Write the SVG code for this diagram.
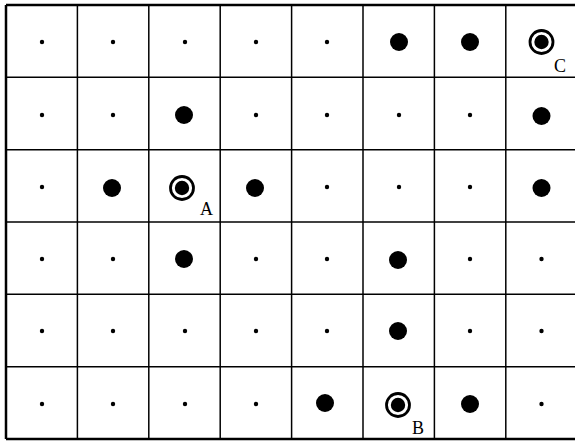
<svg xmlns="http://www.w3.org/2000/svg" width="575" height="441" viewBox="0 0 575 441">
<style>
.g{stroke:#000;stroke-width:1.5;fill:none}
.b{stroke:#000;stroke-width:2.5;fill:none}
.s{fill:#000}
.ring{fill:none;stroke:#000;stroke-width:2.8}
.lbl{font-family:"Liberation Serif",serif;font-size:18px;fill:#000}
</style>
<rect width="575" height="441" fill="#fff"/>
<g id="grid">
<line class="b" x1="6" y1="5" x2="575" y2="5"/>
<line class="b" x1="6" y1="439" x2="575" y2="439"/>
<line class="b" x1="6" y1="5" x2="6" y2="439"/>
<line class="g" x1="6" y1="77.3" x2="575" y2="77.3"/>
<line class="g" x1="6" y1="149.7" x2="575" y2="149.7"/>
<line class="g" x1="6" y1="222" x2="575" y2="222"/>
<line class="g" x1="6" y1="294.3" x2="575" y2="294.3"/>
<line class="g" x1="6" y1="366.7" x2="575" y2="366.7"/>
<line class="g" x1="77.4" y1="5" x2="77.4" y2="439"/>
<line class="g" x1="148.8" y1="5" x2="148.8" y2="439"/>
<line class="g" x1="220.2" y1="5" x2="220.2" y2="439"/>
<line class="g" x1="291.6" y1="5" x2="291.6" y2="439"/>
<line class="g" x1="363" y1="5" x2="363" y2="439"/>
<line class="g" x1="434.4" y1="5" x2="434.4" y2="439"/>
<line class="g" x1="505.8" y1="5" x2="505.8" y2="439"/>
</g>
<g id="small-dots" class="s">
<circle cx="42" cy="42" r="2.2"/><circle cx="113" cy="42" r="2.2"/><circle cx="185" cy="42" r="2.2"/><circle cx="256" cy="42" r="2.2"/><circle cx="327" cy="42" r="2.2"/>
<circle cx="42" cy="115" r="2.2"/><circle cx="113" cy="115" r="2.2"/><circle cx="256" cy="115" r="2.2"/><circle cx="327" cy="115" r="2.2"/><circle cx="399" cy="115" r="2.2"/><circle cx="470" cy="115" r="2.2"/>
<circle cx="42" cy="187" r="2.2"/><circle cx="327" cy="187" r="2.2"/><circle cx="399" cy="187" r="2.2"/><circle cx="470" cy="187" r="2.2"/>
<circle cx="42" cy="259" r="2.2"/><circle cx="113" cy="259" r="2.2"/><circle cx="256" cy="259" r="2.2"/><circle cx="327" cy="259" r="2.2"/><circle cx="470" cy="259" r="2.2"/><circle cx="541.5" cy="259" r="2.2"/>
<circle cx="42" cy="331" r="2.2"/><circle cx="113" cy="331" r="2.2"/><circle cx="185" cy="331" r="2.2"/><circle cx="256" cy="331" r="2.2"/><circle cx="327" cy="331" r="2.2"/><circle cx="470" cy="331" r="2.2"/><circle cx="541.5" cy="331" r="2.2"/>
<circle cx="42" cy="404" r="2.2"/><circle cx="113" cy="404" r="2.2"/><circle cx="185" cy="404" r="2.2"/><circle cx="256" cy="404" r="2.2"/><circle cx="541.5" cy="404" r="2.2"/>
</g>
<g id="big-dots" class="s">
<circle cx="399" cy="42" r="9"/><circle cx="470" cy="42" r="9"/>
<circle cx="184" cy="115" r="9"/><circle cx="541.5" cy="116" r="9"/>
<circle cx="112" cy="188" r="9"/><circle cx="255" cy="188" r="9"/><circle cx="541.5" cy="188" r="9"/>
<circle cx="184" cy="259" r="9"/><circle cx="398" cy="260" r="9"/>
<circle cx="398" cy="331" r="9"/>
<circle cx="325" cy="403" r="9"/><circle cx="470" cy="404" r="9"/>
</g>
<g id="node-A">
<circle class="ring" cx="182" cy="188" r="11.5"/><circle class="s" cx="182" cy="188" r="7.2"/>
<text class="lbl" x="200" y="215">A</text>
</g>
<g id="node-B">
<circle class="ring" cx="398" cy="405" r="11.5"/><circle class="s" cx="398" cy="405" r="7.2"/>
<text class="lbl" x="412" y="434">B</text>
</g>
<g id="node-C">
<circle class="ring" cx="541.5" cy="42" r="11.5"/><circle class="s" cx="541.5" cy="42" r="7.2"/>
<text class="lbl" x="554" y="72">C</text>
</g>
</svg>
